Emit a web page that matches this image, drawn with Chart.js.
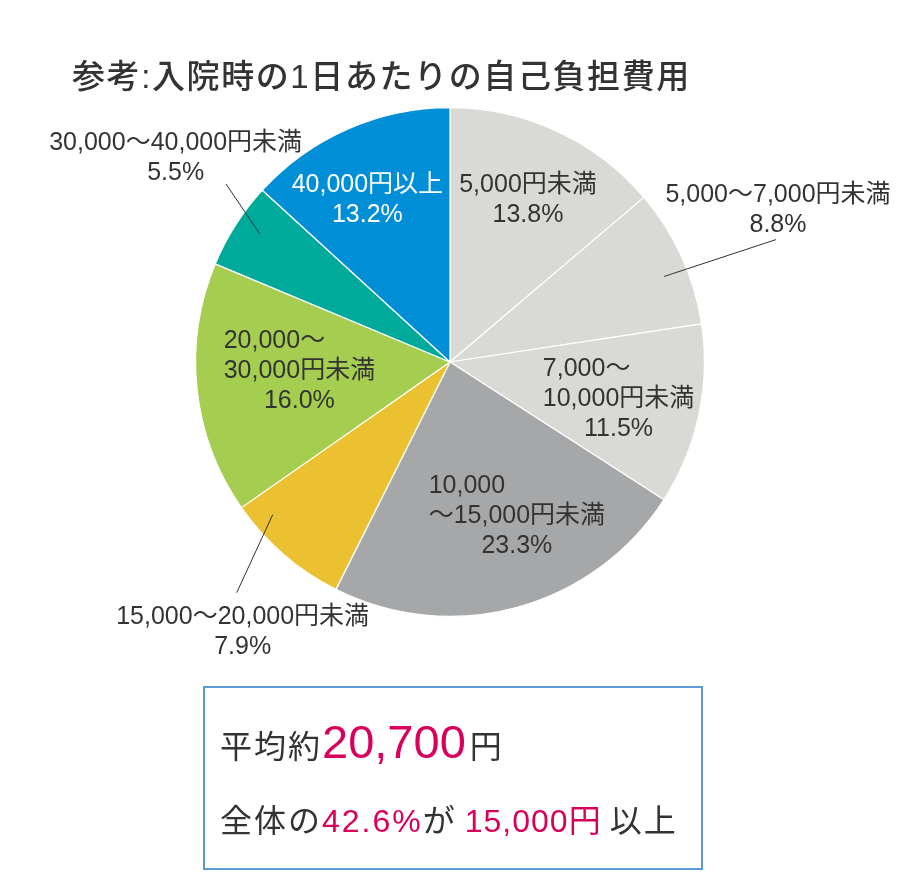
<!DOCTYPE html>
<html lang="ja">
<head>
<meta charset="utf-8">
<script src="https://cdn.jsdelivr.net/npm/chart.js@4/dist/chart.umd.min.js"></script>
<style>
  html, body { margin: 0; padding: 0; background: #fff; }
  #wrap { position: relative; width: 900px; height: 894px; overflow: hidden; }
  #pie { position: absolute; left: 0; top: 0; }
  #title {
    position: absolute; left: 72px; top: 50px;
    font: 500 33px "Liberation Sans", "Noto Sans CJK JP", sans-serif;
    color: #333; letter-spacing: 1.6px; white-space: nowrap;
  }
  #box {
    position: absolute; left: 203px; top: 686px; width: 496px; height: 180px;
    border: 2px solid #5b9bd5; box-sizing: content-box;
  }
  .row {
    position: absolute; left: 15px; white-space: nowrap; color: #333;
    font-family: "Liberation Sans", "Noto Sans CJK JP", sans-serif;
    letter-spacing: 2px;
  }
  .pink { color: #d9005b; }
</style>
</head>
<body>
<div id="wrap">
  <canvas id="pie" width="900" height="894"></canvas>
  <div id="title">参考:入院時の1日あたりの自己負担費用</div>
  <div id="box">
    <div class="row" style="top:26px; font-size:32px;">平均約<span class="pink" style="font-size:47px; letter-spacing:0;">20,700</span><span style="margin-left:4px;">円</span></div>
    <div class="row" style="top:107px; font-size:32px;">全体の<span class="pink">42.6%</span>が<span class="pink" style="letter-spacing:1px; margin-left:8px;">15,000円</span><span style="margin-left:8px;">以上</span></div>
  </div>
</div>
<script>
const categories = [
  "5,000円未満",
  "5,000～7,000円未満",
  "7,000～10,000円未満",
  "10,000～15,000円未満",
  "15,000～20,000円未満",
  "20,000～30,000円未満",
  "30,000～40,000円未満",
  "40,000円以上",
];
const shares = [13.8, 8.8, 11.5, 23.3, 7.9, 16.0, 5.5, 13.2];
const labelLines = [
  ["5,000円未満"],
  ["5,000～7,000円未満"],
  ["7,000～", "10,000円未満"],
  ["10,000", "～15,000円未満"],
  ["15,000～20,000円未満"],
  ["20,000～", "30,000円未満"],
  ["30,000～40,000円未満"],
  ["40,000円以上"],
];
const sliceColors = ["#d9d9d5", "#d9d9d5", "#d9d9d5", "#a6a7a9", "#ebc131", "#a5cd4f", "#00aa9b", "#008fd7"];

// label placement: r = fraction of radius, da = degrees off the slice middle
const place = [
  { r: 0.706, da: 0.9 },
  { r: 1.42, da: -0.3, lead: [0.906, 2.7, 1.369, 3.9] },
  { r: 0.678, da: 0.2, firstLeft: true },
  { r: 0.662, da: -8.1, firstLeft: true },
  { r: 1.337, da: -3.3, lead: [0.92, 8.4, 1.235, 1.9] },
  { r: 0.593, da: 2.7, firstLeft: true },
  { r: 1.343, da: 4.0, lead: [0.902, 1.4, 1.125, 5.9] },
  { r: 0.714, da: -3.3, color: "#fff" },
];

const labelFont = '25px "Liberation Sans", "Noto Sans CJK JP", sans-serif';
const lineGap = 30;

const sliceLabels = {
  id: "sliceLabels",
  afterDatasetsDraw(chart) {
    const c = chart.ctx;
    const arcs = chart.getDatasetMeta(0).data;
    arcs.forEach((arc, i) => {
      const p = arc.getProps(["x", "y", "startAngle", "endAngle", "outerRadius"], true);
      const mid = (p.startAngle + p.endAngle) / 2;
      const pt = (r, da) => {
        const a = mid + da * Math.PI / 180;
        return [p.x + r * p.outerRadius * Math.cos(a), p.y + r * p.outerRadius * Math.sin(a)];
      };
      const pl = place[i];
      c.save();
      if (pl.lead) {
        const a = pt(pl.lead[0], pl.lead[1]);
        const b = pt(pl.lead[2], pl.lead[3]);
        c.strokeStyle = "#333";
        c.lineWidth = 1;
        c.beginPath();
        c.moveTo(a[0], a[1]);
        c.lineTo(b[0], b[1]);
        c.stroke();
      }
      const lines = labelLines[i].concat([shares[i].toFixed(1) + "%"]);
      const [cx, cy] = pt(pl.r, pl.da);
      c.font = labelFont;
      c.fillStyle = pl.color || "#333";
      c.textBaseline = "middle";
      const maxW = Math.max(...lines.map(t => c.measureText(t).width));
      const y0 = cy - (lines.length - 1) * lineGap / 2;
      lines.forEach((t, k) => {
        if (pl.firstLeft && k === 0) {
          c.textAlign = "left";
          c.fillText(t, cx - maxW / 2, y0 + k * lineGap);
        } else {
          c.textAlign = "center";
          c.fillText(t, cx, y0 + k * lineGap);
        }
      });
      c.restore();
    });
  },
};

new Chart(document.getElementById("pie"), {
  type: "pie",
  data: {
    labels: categories,
    datasets: [{
      data: shares,
      backgroundColor: sliceColors,
      borderColor: "#fff",
      borderWidth: 1.2,
    }],
  },
  options: {
    responsive: false,
    animation: false,
    devicePixelRatio: 1,
    layout: { padding: { top: 106, bottom: 276, left: 195, right: 195 } },
    plugins: { legend: { display: false }, tooltip: { enabled: false } },
  },
  plugins: [sliceLabels],
});
</script>
</body>
</html>
